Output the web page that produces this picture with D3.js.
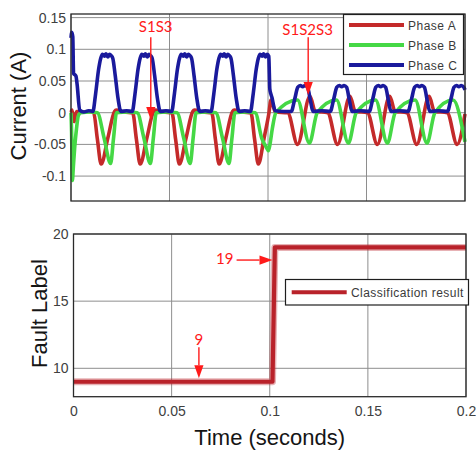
<!DOCTYPE html>
<html>
<head>
<meta charset="utf-8">
<script src="https://cdn.jsdelivr.net/npm/d3@7/dist/d3.min.js"></script>
<style>
  html, body { margin: 0; padding: 0; background: #fff; }
  svg { display: block; font-family: "Liberation Sans", Arial, Helvetica, sans-serif; }
</style>
</head>
<body>
<svg id="chart" width="476" height="453"></svg>
<script>
// ---- axis ticks ----
const timeTicks = [0, 0.05, 0.1, 0.15, 0.2];
const timeTickLabels = ["0", "0.05", "0.1", "0.15", "0.2"];
const currentTicks = [-0.1, -0.05, 0, 0.05, 0.1, 0.15];
const currentTickLabels = ["-0.1", "-0.05", "0", "0.05", "0.1", "0.15"];
const labelTicks = [10, 15, 20];
const labelTickLabels = ["10", "15", "20"];

// ---- phase currents: [time (s), current (A)] ----
const seriesNames = ["Phase A", "Phase B", "Phase C"];

const phaseA = [
  [0, 0.001], [0.0005, 0.004], [0.0010, -0.008], [0.0016, -0.014], [0.0022, -0.004], [0.0030, 0.002], [0.0060, 0.001], [0.0090, 0.002],
  [0.0115, 0.000], [0.0134, -0.042], [0.0153, -0.081], [0.0187, -0.040], [0.0221, 0.002], [0.0230, 0.004], [0.0270, 0.001],
  [0.0313, 0.000], [0.0332, -0.042], [0.0351, -0.081], [0.0385, -0.040], [0.0419, 0.002], [0.0428, 0.004], [0.0470, 0.001],
  [0.0512, 0.000], [0.0531, -0.042], [0.0550, -0.081], [0.0584, -0.040], [0.0618, 0.002], [0.0627, 0.004], [0.0670, 0.001],
  [0.0714, 0.000], [0.0733, -0.042], [0.0752, -0.081], [0.0786, -0.040], [0.0820, 0.002], [0.0829, 0.004], [0.0870, 0.001],
  [0.0913, 0.000], [0.0932, -0.042], [0.0951, -0.081], [0.0980, -0.040], [0.1005, 0.000], [0.1015, 0.020], [0.1025, 0.012], [0.1038, 0.001],
  [0.1100, 0.000], [0.1150, -0.050], [0.1213, 0.026], [0.1240, 0.002], [0.1303, 0.000],
  [0.1353, -0.050], [0.1416, 0.026], [0.1443, 0.002], [0.1505, 0.000],
  [0.1555, -0.050], [0.1618, 0.026], [0.1645, 0.002], [0.1705, 0.000],
  [0.1755, -0.050], [0.1818, 0.026], [0.1845, 0.002], [0.1910, 0.000],
  [0.1960, -0.050], [0.2000, -0.002]
];

const phaseB = [
  [0, 0.000], [0.0003, -0.030], [0.0007, -0.107], [0.0012, -0.085], [0.0019, -0.054], [0.0028, -0.025], [0.0037, -0.005], [0.0050, 0.000], [0.0100, 0.001],
  [0.0134, 0.000], [0.0168, -0.040], [0.0201, -0.080], [0.0216, -0.040], [0.0231, 0.000], [0.0290, 0.001],
  [0.0336, 0.000], [0.0370, -0.040], [0.0403, -0.080], [0.0418, -0.040], [0.0433, 0.000], [0.0490, 0.001],
  [0.0538, 0.000], [0.0572, -0.040], [0.0605, -0.080], [0.0620, -0.040], [0.0635, 0.000], [0.0690, 0.001],
  [0.0735, 0.000], [0.0769, -0.040], [0.0802, -0.080], [0.0817, -0.040], [0.0832, 0.000], [0.0890, 0.001],
  [0.0935, 0.000], [0.0968, -0.040], [0.0990, -0.054], [0.1002, -0.060], [0.1010, -0.050], [0.1022, -0.025], [0.1040, 0.000],
  [0.1150, 0.020], [0.1210, -0.048], [0.1250, 0.000],
  [0.1348, 0.020], [0.1408, -0.048], [0.1448, 0.000],
  [0.1546, 0.020], [0.1606, -0.048], [0.1646, 0.000],
  [0.1747, 0.020], [0.1807, -0.048], [0.1847, 0.000],
  [0.1940, 0.020], [0.2000, -0.046]
];

const phaseC = [
  [0, 0.118], [0.0004, 0.127], [0.0009, 0.120], [0.0013, 0.062], [0.0025, 0.058], [0.0031, 0.045], [0.0044, 0.004], [0.0065, 0.001], [0.0090, 0.003],
  [0.0111, 0.002], [0.0125, 0.030], [0.0140, 0.068], [0.0151, 0.086], [0.0160, 0.092], [0.0170, 0.089], [0.0178, 0.093], [0.0187, 0.088], [0.0196, 0.092], [0.0204, 0.090], [0.0212, 0.086], [0.0224, 0.060], [0.0239, 0.022], [0.0253, 0.002], [0.0282, 0.003],
  [0.0311, 0.002], [0.0325, 0.030], [0.0340, 0.068], [0.0351, 0.086], [0.0360, 0.092], [0.0370, 0.089], [0.0378, 0.093], [0.0387, 0.088], [0.0396, 0.092], [0.0404, 0.090], [0.0412, 0.086], [0.0424, 0.060], [0.0439, 0.022], [0.0453, 0.002], [0.0482, 0.003],
  [0.0511, 0.002], [0.0525, 0.030], [0.0540, 0.068], [0.0551, 0.086], [0.0560, 0.092], [0.0570, 0.089], [0.0578, 0.093], [0.0587, 0.088], [0.0596, 0.092], [0.0604, 0.090], [0.0612, 0.086], [0.0624, 0.060], [0.0639, 0.022], [0.0653, 0.002], [0.0682, 0.003],
  [0.0711, 0.002], [0.0725, 0.030], [0.0740, 0.068], [0.0751, 0.086], [0.0760, 0.092], [0.0770, 0.089], [0.0778, 0.093], [0.0787, 0.088], [0.0796, 0.092], [0.0804, 0.090], [0.0812, 0.086], [0.0824, 0.060], [0.0839, 0.022], [0.0853, 0.002], [0.0882, 0.003],
  [0.0911, 0.002], [0.0925, 0.030], [0.0940, 0.068], [0.0951, 0.086], [0.0960, 0.092], [0.0970, 0.089], [0.0978, 0.093], [0.0987, 0.088], [0.0996, 0.092], [0.1004, 0.089], [0.1007, 0.060], [0.1009, 0.038], [0.1014, 0.030], [0.1020, 0.024], [0.1028, 0.012], [0.1036, 0.003], [0.1080, 0.002],
  [0.1118, 0.002], [0.1136, 0.022], [0.1151, 0.040], [0.1164, 0.043], [0.1176, 0.041], [0.1188, 0.043], [0.1201, 0.040], [0.1216, 0.018], [0.1228, 0.002], [0.1272, 0.003],
  [0.1316, 0.002], [0.1334, 0.022], [0.1349, 0.040], [0.1362, 0.043], [0.1374, 0.041], [0.1386, 0.043], [0.1399, 0.040], [0.1414, 0.018], [0.1426, 0.002], [0.1470, 0.003],
  [0.1514, 0.002], [0.1532, 0.022], [0.1547, 0.040], [0.1560, 0.043], [0.1572, 0.041], [0.1584, 0.043], [0.1597, 0.040], [0.1612, 0.018], [0.1624, 0.002], [0.1668, 0.003],
  [0.1711, 0.002], [0.1729, 0.022], [0.1744, 0.040], [0.1757, 0.043], [0.1769, 0.041], [0.1781, 0.043], [0.1794, 0.040], [0.1809, 0.018], [0.1821, 0.002], [0.1866, 0.003],
  [0.1911, 0.002], [0.1929, 0.022], [0.1944, 0.040], [0.1957, 0.043], [0.1969, 0.041], [0.1981, 0.043], [0.1994, 0.040], [0.2000, 0.036]
];

// ---- classifier output ----
const resultName = "Classification result";
const resultTime = [0, 0.1014, 0.1026, 0.2];
const resultLabel = [9, 9, 19, 19];

// ---- callouts: text anchor and arrow in data units ----
const currentNotes = [
  { text: "S1S3",   tx: 0.0430, ty: 0.1270, from: [0.0405, 0.1190], to: [0.0405, -0.0115] },
  { text: "S1S2S3", tx: 0.1201, ty: 0.1225, from: [0.1204, 0.1190], to: [0.1204, 0.0280] }
];
const labelNotes = [
  { text: "19", tx: 0.0771, ty: 17.76, from: [0.0831, 18.06], to: [0.1014, 18.06] },
  { text: "9",  tx: 0.0639, ty: 11.74, from: [0.0639, 11.56], to: [0.0639, 9.26] }
];

// ---- styling ----
const phaseColors = ["#c42a2a", "#45d845", "#1a1a9c"];
const resultColor = "#b9222a";
const gridColor = "#8e8e8e";
const boxColor = "#2a2a2a";
const tickTextColor = "#404040";
const noteColor = "#ff1a1a";

const svg = d3.select("#chart");

// panel frames
const topBox = { left: 71, right: 465, top: 14, bottom: 201 };
const botBox = { left: 73.5, right: 466, top: 234, bottom: 396.7 };

const xTop = d3.scaleLinear().domain([0, 0.2]).range([topBox.left, topBox.right]);
const yTop = d3.scaleLinear().domain([-0.1393, 0.1557]).range([topBox.bottom, topBox.top]);
const xBot = d3.scaleLinear().domain([0, 0.2]).range([botBox.left, botBox.right]);
const yBot = d3.scaleLinear().domain([7.886, 20]).range([botBox.bottom, botBox.top]);

function drawGrid(g, x, y, box, xt, yt) {
  g.append("rect")
    .attr("x", box.left).attr("y", box.top)
    .attr("width", box.right - box.left).attr("height", box.bottom - box.top)
    .attr("fill", "#fff");
  g.selectAll("line.vgrid").data(xt).join("line").attr("class", "vgrid")
    .attr("x1", d => x(d)).attr("x2", d => x(d))
    .attr("y1", box.top).attr("y2", box.bottom)
    .attr("stroke", gridColor).attr("stroke-width", 1);
  g.selectAll("line.hgrid").data(yt).join("line").attr("class", "hgrid")
    .attr("x1", box.left).attr("x2", box.right)
    .attr("y1", d => y(d)).attr("y2", d => y(d))
    .attr("stroke", gridColor).attr("stroke-width", 1);
}

function drawFrame(g, box) {
  g.append("rect")
    .attr("x", box.left).attr("y", box.top)
    .attr("width", box.right - box.left).attr("height", box.bottom - box.top)
    .attr("fill", "none").attr("stroke", boxColor).attr("stroke-width", 1.3);
}

function styleAxis(sel) {
  sel.select(".domain").remove();
  sel.selectAll("text").attr("fill", tickTextColor).style("font-size", "14px");
}

// ---- top panel: phase currents ----
const gTop = svg.append("g");
drawGrid(gTop, xTop, yTop, topBox, timeTicks, currentTicks);

gTop.append("g")
  .attr("transform", `translate(${topBox.left},0)`)
  .call(d3.axisLeft(yTop).tickValues(currentTicks)
    .tickFormat((d, i) => currentTickLabels[i]).tickSize(0).tickPadding(5))
  .call(styleAxis);

const lineTop = d3.line()
  .x(d => xTop(d[0])).y(d => yTop(d[1]))
  .curve(d3.curveMonotoneX);

const phaseSeries = [phaseA, phaseB, phaseC];
gTop.selectAll("path.phase").data(phaseSeries).join("path")
  .attr("class", "phase")
  .attr("d", lineTop)
  .attr("fill", "none")
  .attr("stroke", (d, i) => phaseColors[i])
  .attr("stroke-width", 3.6)
  .attr("stroke-linejoin", "round");

drawFrame(gTop, topBox);

// legend for phases
const legTop = gTop.append("g");
legTop.append("rect")
  .attr("x", 343.5).attr("y", 14.5).attr("width", 120).attr("height", 60)
  .attr("fill", "#fff").attr("stroke", "#1e1e1e").attr("stroke-width", 1.2);
const legRows = legTop.selectAll("g.row").data(seriesNames).join("g")
  .attr("class", "row")
  .attr("transform", (d, i) => `translate(0,${25 + i * 20})`);
legRows.append("line")
  .attr("x1", 349).attr("x2", 404).attr("y1", 0).attr("y2", 0)
  .attr("stroke", (d, i) => phaseColors[i]).attr("stroke-width", 4);
legRows.append("text")
  .attr("x", 408).attr("y", 4.5)
  .attr("fill", "#3a3a3a").style("font-size", "12px").style("letter-spacing", "0.5px")
  .text(d => d);

// y title
svg.append("text")
  .attr("transform", `translate(25.5,106) rotate(-90)`)
  .attr("text-anchor", "middle")
  .attr("fill", "#151515").style("font-size", "22px")
  .text("Current (A)");

// ---- bottom panel: fault label ----
const gBot = svg.append("g");
drawGrid(gBot, xBot, yBot, botBox, timeTicks, labelTicks);

gBot.append("g")
  .attr("transform", `translate(${botBox.left},0)`)
  .call(d3.axisLeft(yBot).tickValues(labelTicks)
    .tickFormat((d, i) => labelTickLabels[i]).tickSize(0).tickPadding(5))
  .call(styleAxis);

gBot.append("g")
  .attr("transform", `translate(0,${botBox.bottom})`)
  .call(d3.axisBottom(xBot).tickValues(timeTicks)
    .tickFormat((d, i) => timeTickLabels[i]).tickSize(0).tickPadding(9.7))
  .call(styleAxis);

const resultPoints = resultTime.map((t, i) => [t, resultLabel[i]]);
const lineBot = d3.line().x(d => xBot(d[0])).y(d => yBot(d[1]));
gBot.append("path")
  .datum(resultPoints)
  .attr("d", lineBot)
  .attr("fill", "none")
  .attr("stroke", resultColor)
  .attr("stroke-opacity", 0.35)
  .attr("stroke-width", 7)
  .attr("stroke-linejoin", "round");
gBot.append("path")
  .datum(resultPoints)
  .attr("d", lineBot)
  .attr("fill", "none")
  .attr("stroke", resultColor)
  .attr("stroke-width", 4.2)
  .attr("stroke-linejoin", "round");

drawFrame(gBot, botBox);

// legend for classifier
const legBot = gBot.append("g");
legBot.append("rect")
  .attr("x", 285.5).attr("y", 279.5).attr("width", 183).attr("height", 25.5)
  .attr("fill", "#fff").attr("stroke", "#1e1e1e").attr("stroke-width", 1.2);
legBot.append("line")
  .attr("x1", 291.7).attr("x2", 346.7).attr("y1", 292.3).attr("y2", 292.3)
  .attr("stroke", resultColor).attr("stroke-width", 4);
legBot.append("text")
  .attr("x", 351).attr("y", 296.8)
  .attr("fill", "#3a3a3a").style("font-size", "12px").style("letter-spacing", "0.45px")
  .text(resultName);

svg.append("text")
  .attr("transform", `translate(47,313.5) rotate(-90)`)
  .attr("text-anchor", "middle")
  .attr("fill", "#151515").style("font-size", "22px")
  .text("Fault Label");

svg.append("text")
  .attr("x", (botBox.left + botBox.right) / 2).attr("y", 445)
  .attr("text-anchor", "middle")
  .attr("fill", "#151515").style("font-size", "22px")
  .text("Time (seconds)");

// ---- callouts ----
function drawNotes(g, notes, x, y) {
  notes.forEach(n => {
    const x0 = x(n.from[0]), y0 = y(n.from[1]);
    const x1 = x(n.to[0]), y1 = y(n.to[1]);
    const ang = Math.atan2(y1 - y0, x1 - x0);
    const len = 13, half = 4.6;
    const bx = x1 - len * Math.cos(ang), by = y1 - len * Math.sin(ang);
    g.append("line")
      .attr("x1", x0).attr("y1", y0).attr("x2", bx).attr("y2", by)
      .attr("stroke", noteColor).attr("stroke-width", 1.4);
    const px = -Math.sin(ang) * half, py = Math.cos(ang) * half;
    g.append("polygon")
      .attr("points", [[x1, y1], [bx + px, by + py], [bx - px, by - py]].map(p => p.join(",")).join(" "))
      .attr("fill", noteColor);
    g.append("text")
      .attr("x", x(n.tx)).attr("y", y(n.ty))
      .attr("text-anchor", "middle")
      .attr("fill", noteColor)
      .style("font-family", "Lato, 'Noto Sans', sans-serif")
      .style("font-size", "15px")
      .text(n.text);
  });
}
drawNotes(svg.append("g"), currentNotes, xTop, yTop);
drawNotes(svg.append("g"), labelNotes, xBot, yBot);
</script>
</body>
</html>
